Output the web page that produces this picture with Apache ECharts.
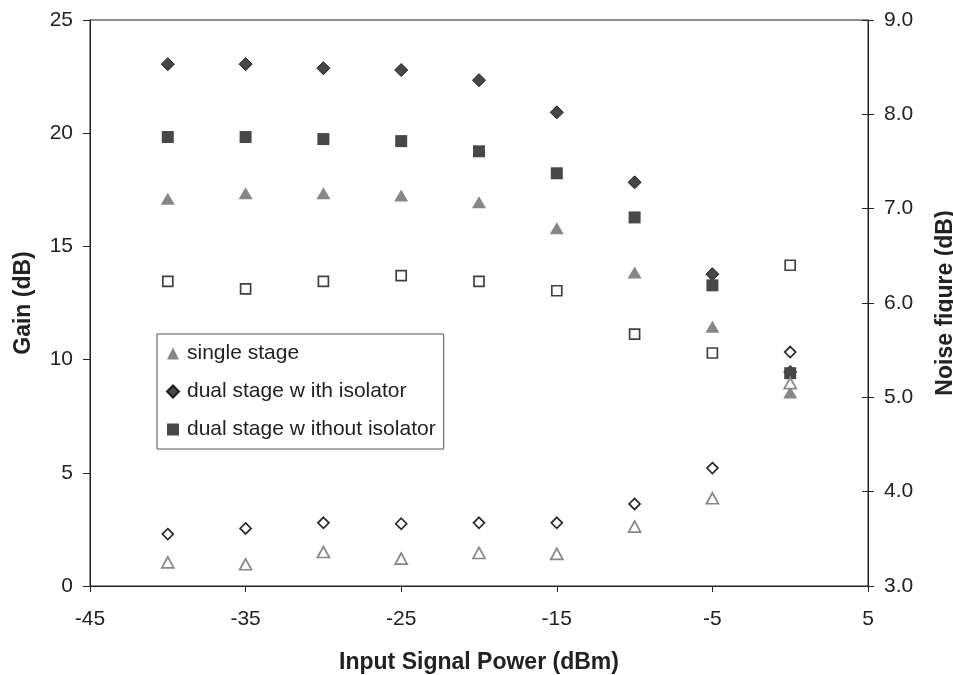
<!DOCTYPE html>
<html>
<head>
<meta charset="utf-8">
<script src="https://cdn.jsdelivr.net/npm/echarts@6/dist/echarts.min.js"></script>
<style>
html,body{margin:0;padding:0;background:#fff;}
#chart{width:953px;height:675px;}
</style>
</head>
<body>
<div id="chart"></div>
<script>
// Input signal power (dBm)
var inputPower = [-40, -35, -30, -25, -20, -15, -10, -5, 0];
// Gain (dB) - left axis
var gainSingle = [17.1, 17.35, 17.35, 17.25, 16.95, 15.8, 13.85, 11.45, 8.55];
var gainDualIso = [23.05, 23.05, 22.87, 22.79, 22.34, 20.92, 17.83, 13.77, 9.45];
var gainDualNoIso = [19.83, 19.83, 19.74, 19.65, 19.2, 18.23, 16.28, 13.28, 9.4];
// Noise figure (dB) - right axis
var nfSingle = [3.25, 3.23, 3.36, 3.29, 3.35, 3.34, 3.63, 3.93, 5.15];
var nfDualIso = [3.55, 3.61, 3.67, 3.66, 3.67, 3.67, 3.87, 4.25, 5.48];
var nfDualNoIso = [6.23, 6.15, 6.23, 6.29, 6.23, 6.13, 5.67, 5.47, 6.4];
// Legend labels
var legendNames = ['single stage', 'dual stage w ith isolator', 'dual stage w ithout isolator'];

function pairs(xs, ys) { return xs.map(function (x, i) { return [x, ys[i]]; }); }

var FONT = "'Liberation Sans', Arial, sans-serif";
var chart = echarts.init(document.getElementById('chart'), null, {renderer: 'canvas'});
chart.setOption({
  animation: false,
  backgroundColor: '#ffffff',
  textStyle: {fontFamily: FONT},
  grid: {left: 90, right: 85, top: 20, bottom: 89, containLabel: false, outerBoundsMode: 'none',
         show: true, borderColor: '#222', borderWidth: 1, backgroundColor: 'transparent'},
  legend: {
    data: legendNames, orient: 'vertical', left: 157, top: 334,
    padding: [9, 8, 9, 9], itemGap: 17, itemWidth: 12, itemHeight: 12,
    backgroundColor: '#fff', borderColor: '#555', borderWidth: 1,
    textStyle: {fontSize: 21, color: '#222', fontFamily: FONT, padding: [0, 0, 0, 3]},
    selectedMode: false
  },
  xAxis: {
    type: 'value', min: -45, max: 5, interval: 10,
    name: 'Input Signal Power (dBm)', nameLocation: 'middle', nameGap: 65,
    nameTextStyle: {fontSize: 23, fontWeight: 'bold', color: '#222', fontFamily: FONT},
    axisLine: {show: true, onZero: false, lineStyle: {color: '#222', width: 1}},
    axisTick: {show: true, inside: false, length: 6, lineStyle: {color: '#222'}},
    axisLabel: {fontSize: 21, color: '#222', margin: 23, fontFamily: FONT},
    splitLine: {show: false}
  },
  yAxis: [
    {
      type: 'value', position: 'left', min: 0, max: 25, interval: 5,
      name: 'Gain (dB)', nameLocation: 'middle', nameGap: 55, nameRotate: 90,
      nameTextStyle: {fontSize: 23, fontWeight: 'bold', color: '#222', fontFamily: FONT},
      axisLine: {show: true, onZero: false, lineStyle: {color: '#222', width: 1}},
      axisTick: {show: true, inside: false, length: 7, lineStyle: {color: '#222'}},
      axisLabel: {fontSize: 21, color: '#222', margin: 17, fontFamily: FONT},
      splitLine: {show: false}
    },
    {
      type: 'value', position: 'right', min: 3, max: 9, interval: 1,
      name: 'Noise figure (dB)', nameLocation: 'middle', nameGap: 66, nameRotate: 90,
      nameTextStyle: {fontSize: 23, fontWeight: 'bold', color: '#222', fontFamily: FONT},
      axisLine: {show: true, onZero: false, lineStyle: {color: '#222', width: 1}},
      axisTick: {show: true, inside: false, length: 6, lineStyle: {color: '#222'}},
      axisLabel: {fontSize: 21, color: '#222', margin: 16, fontFamily: FONT,
                  formatter: function (v) { return v.toFixed(1); }},
      splitLine: {show: false}
    },
    {
      type: 'value', position: 'right', offset: 0, min: 3, max: 9, interval: 1,
      axisLine: {show: false, onZero: false},
      axisTick: {show: true, inside: true, length: 6, lineStyle: {color: '#222'}},
      axisLabel: {show: false},
      splitLine: {show: false}
    }
  ],
  series: [
    {name: legendNames[0], type: 'scatter', yAxisIndex: 0, symbol: 'triangle', symbolSize: [14, 12],
     itemStyle: {color: '#878787', opacity: 1}, data: pairs(inputPower, gainSingle), z: 2},
    {name: legendNames[1], type: 'scatter', yAxisIndex: 0, symbol: 'diamond', symbolSize: [13, 13],
     itemStyle: {color: '#474747', borderColor: '#1e1e1e', borderWidth: 1, opacity: 1}, data: pairs(inputPower, gainDualIso), z: 2},
    {name: legendNames[2], type: 'scatter', yAxisIndex: 0, symbol: 'rect', symbolSize: [12, 12],
     itemStyle: {color: '#484848', opacity: 1}, data: pairs(inputPower, gainDualNoIso), z: 3},
    {name: 'NF single stage', type: 'scatter', yAxisIndex: 1, symbol: 'triangle', symbolSize: [12, 11],
     itemStyle: {color: '#ffffff', borderColor: '#878787', borderWidth: 1.7, opacity: 1}, data: pairs(inputPower, nfSingle), z: 4},
    {name: 'NF dual stage with isolator', type: 'scatter', yAxisIndex: 1, symbol: 'diamond', symbolSize: [11, 11],
     itemStyle: {color: '#ffffff', borderColor: '#2a2a2a', borderWidth: 1.7, opacity: 1}, data: pairs(inputPower, nfDualIso), z: 4},
    {name: 'NF dual stage without isolator', type: 'scatter', yAxisIndex: 1, symbol: 'rect', symbolSize: [10, 10],
     itemStyle: {color: '#ffffff', borderColor: '#404040', borderWidth: 1.7, opacity: 1}, data: pairs(inputPower, nfDualNoIso), z: 4}
  ]
});
</script>
</body>
</html>
